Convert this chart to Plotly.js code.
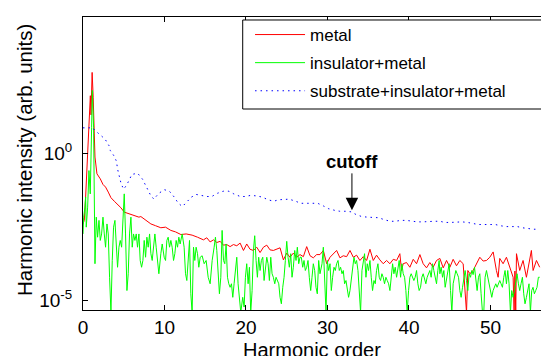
<!DOCTYPE html>
<html>
<head>
<meta charset="utf-8">
<script src="https://cdn.plot.ly/plotly-3.0.1.min.js"></script>
<style>html,body{margin:0;padding:0;background:#fff;}#chart{width:541px;height:356px;}</style>
</head>
<body>
<div id="chart"></div>
<script>
// Harmonic order (x) and log10 of harmonic intensity (y)
var metalX = [0,0.16,0.32,0.49,0.65,0.81,0.90,0.98,1.12,1.25,1.38,1.47,1.71,2.12,2.45,2.77,3.10,3.43,3.84,4.24,4.65,5.06,5.63,6.29,6.86,7.10,7.68,8.33,8.90,9.55,10.13,10.78,11.35,12.01,12.66,13.39,14.05,
  14.78,15.19,15.60,16.01,16.42,16.83,17.23,17.64,18.05,18.46,18.87,19.28,19.69,20.09,20.50,20.91,21.32,21.73,22.14,22.55,22.95,23.36,23.77,24.18,24.59,25.00,25.40,25.81,26.22,26.63,27.04,27.45,27.86,28.26,28.67,
  29.08,29.49,29.90,30.31,30.71,31.12,31.53,31.94,32.35,32.76,33.17,33.57,33.98,34.39,34.80,35.21,35.62,36.02,36.43,36.84,37.25,37.66,38.07,38.48,38.88,39.09,39.29,39.70,40.11,40.52,40.93,41.34,41.74,42.15,42.56,42.97,43.38,
  43.79,44.20,44.61,45.02,45.42,45.83,46.24,46.65,47.06,47.22,47.47,47.87,48.28,48.69,49.10,49.51,49.92,50.33,50.73,50.94,51.14,51.55,51.96,52.37,52.78,52.90,53.00,53.10,53.19,53.59,54.00,54.41,54.82,55.02,55.23,55.64,56.04];
var metalLog = [-2.40,-2.28,-1.49,-0.47,0.21,1.11,1.95,1.30,2.74,1.90,0.88,-0.13,-0.70,-0.87,-1.06,-1.15,-1.32,-1.51,-1.63,-1.74,-1.85,-2.00,-2.06,-2.12,-2.17,-2.15,-2.28,-2.40,-2.46,-2.53,-2.51,-2.62,-2.67,-2.76,-2.74,-2.78,-2.85,
  -2.94,-2.87,-3.01,-2.94,-3.03,-2.99,-3.12,-3.10,-3.17,-3.10,-3.14,-3.05,-3.30,-3.08,-3.26,-3.30,-3.19,-3.37,-3.19,-3.12,-3.28,-3.30,-3.26,-3.21,-3.62,-3.39,-3.53,-3.39,-3.53,-3.44,-3.51,-3.17,-3.48,-3.55,-3.44,
  -3.44,-3.30,-3.75,-3.53,-3.41,-3.30,-3.55,-3.48,-3.51,-3.30,-3.53,-3.46,-3.64,-3.51,-3.64,-3.26,-3.64,-3.46,-3.62,-3.75,-3.64,-3.75,-3.60,-3.64,-3.41,-3.98,-3.75,-3.71,-3.87,-3.60,-3.75,-3.44,-3.75,-3.89,-3.71,-3.87,-3.64,
  -3.57,-3.89,-3.64,-3.87,-3.60,-3.82,-3.64,-3.75,-5.40,-3.98,-4.09,-3.98,-3.75,-3.53,-3.66,-3.64,-3.53,-3.35,-3.98,-4.21,-3.57,-3.75,-3.53,-3.87,-4.21,-5.40,-4.00,-5.40,-3.41,-3.98,-3.64,-4.21,-3.64,-3.30,-3.98,-3.64,-3.87];

var insX = [0,0.08,0.24,0.32,0.40,0.57,0.73,0.89,1.06,1.14,1.30,1.38,1.47,1.63,1.79,1.96,2.12,2.28,2.45,2.61,2.77,2.94,3.10,3.26,3.43,3.59,3.75,3.92,4.08,4.24,4.41,4.57,4.74,4.90,5.06,5.22,5.39,5.55,5.71,5.88,6.04,6.20,6.37,6.53,6.69,6.86,7.02,7.19,7.35,7.51,7.68,7.84,8.00,8.17,8.33,8.49,8.66,8.82,8.98,9.15,9.31,9.55,9.72,9.96,10.13,10.29,10.45,10.62,10.78,10.94,11.11,11.27,11.43,11.60,11.76,11.92,12.17,12.41,12.58,12.74,12.90,13.07,13.23,13.39,13.56,13.72,13.88,14.05,14.21,
  14.38,14.62,14.87,15.11,15.36,15.60,15.85,16.09,16.25,16.42,16.58,16.74,16.91,17.07,17.24,17.40,17.56,17.73,17.89,18.05,18.22,18.38,18.54,18.71,18.87,19.03,19.20,19.36,19.60,19.77,19.93,20.09,20.26,20.42,20.58,20.75,20.91,21.07,21.24,21.40,21.56,21.73,21.89,22.06,22.22,22.38,22.55,22.71,22.87,23.04,23.20,23.36,23.53,23.69,23.85,24.02,24.18,24.34,24.51,24.67,24.83,25.00,25.16,25.32,25.49,25.65,25.81,25.98,26.14,26.30,26.47,26.63,26.79,26.96,27.12,27.28,27.45,27.61,27.77,27.94,28.10,28.26,28.43,28.59,28.75,28.92,
  29.08,29.33,29.49,29.65,29.82,29.98,30.14,30.31,30.47,30.63,30.80,30.96,31.12,31.29,31.45,31.61,31.78,31.94,32.10,32.27,32.43,32.59,32.76,32.92,33.08,33.25,33.41,33.57,33.74,33.90,34.06,34.23,34.39,34.55,34.72,34.88,35.04,35.21,35.37,35.53,35.70,35.86,36.02,36.19,36.35,36.51,36.68,36.84,37.00,37.17,37.33,37.50,37.66,37.82,37.99,38.15,38.31,38.48,38.64,38.80,38.97,39.13,39.29,39.46,39.62,39.78,39.95,40.11,40.27,40.44,40.60,40.76,40.93,41.09,41.25,41.42,41.58,41.74,41.91,42.07,42.23,42.40,42.56,42.72,42.89,43.05,43.21,43.38,43.54,43.70,
  43.79,43.95,44.12,44.28,44.44,44.61,44.77,44.93,45.10,45.26,45.42,45.59,45.75,45.91,46.08,46.24,46.40,46.57,46.73,46.89,47.06,47.22,47.38,47.55,47.71,47.87,48.04,48.20,48.36,48.53,48.69,48.85,49.02,49.18,49.34,49.51,49.67,49.83,50.00,50.16,50.32,50.49,50.65,50.81,50.98,51.14,51.30,51.47,51.63,51.79,51.96,52.12,52.28,52.45,52.61,52.77,52.94,53.10,53.26,53.43,53.59,53.75,53.92,54.08,54.24,54.41,54.57,54.73,54.90,55.06,55.22,55.39,55.55,55.71,55.88,56.04];
var insLog = [-2.74,-2.17,-1.83,-1.49,-2.51,-1.83,-0.59,-1.38,0.88,2.13,0.88,-0.81,-3.75,-2.17,-2.85,-2.28,-2.96,-2.74,-2.17,-2.74,-3.19,-2.40,-2.74,-4.21,-5.40,-3.64,-2.51,-2.28,-3.19,-3.87,-3.19,-2.96,-3.19,-2.28,-1.38,-2.74,-4.66,-4.09,-2.74,-2.17,-3.19,-2.74,-2.96,-2.74,-3.19,-2.74,-3.64,-3.87,-3.64,-2.96,-3.53,-2.85,-3.19,-2.74,-3.41,-3.64,-3.19,-2.74,-3.19,-3.64,-4.09,-3.41,-3.08,-3.53,-3.64,-2.96,-2.85,-3.19,-2.96,-3.19,-3.64,-3.41,-2.96,-3.19,-2.85,-3.08,-2.74,-3.19,-4.09,-4.32,-3.64,-2.96,-4.77,-5.40,-3.19,-3.64,-3.19,-3.41,-3.87,
  -3.53,-3.48,-3.75,-3.64,-4.21,-4.43,-3.64,-3.19,-2.85,-3.30,-3.98,-4.77,-4.21,-2.62,-3.64,-3.75,-3.08,-4.21,-4.43,-4.55,-4.43,-4.89,-4.43,-3.98,-3.53,-4.43,-4.89,-5.40,-4.89,-5.22,-4.21,-3.75,-4.43,-3.87,-5.40,-4.66,-3.30,-2.80,-3.64,-4.21,-3.53,-3.98,-3.64,-3.53,-4.32,-3.87,-3.53,-3.75,-4.32,-3.53,-4.09,-4.21,-4.43,-4.21,-4.32,-4.43,-4.89,-5.11,-4.55,-4.21,-3.64,-2.99,-3.53,-3.87,-3.41,-4.21,-3.87,-3.30,-3.64,-3.19,-3.75,-3.53,-3.53,-3.87,-3.64,-3.98,-3.87,-3.64,-4.21,-4.66,-4.21,-3.75,-3.98,-4.55,-4.77,-3.64,
  -4.09,-3.75,-3.19,-4.43,-5.40,-3.64,-3.98,-3.75,-4.66,-4.21,-3.87,-3.98,-3.75,-3.64,-3.98,-3.87,-4.09,-3.98,-4.43,-4.32,-4.66,-4.89,-4.66,-4.32,-3.98,-3.53,-3.75,-3.64,-3.98,-4.89,-5.40,-3.98,-3.75,-3.41,-4.21,-3.75,-3.98,-3.64,-4.21,-4.66,-4.32,-4.43,-3.98,-3.75,-4.21,-4.32,-4.09,-4.21,-4.43,-4.21,-4.32,-4.43,-4.66,-4.21,-3.75,-4.09,-3.87,-4.21,-3.98,-3.64,-4.21,-3.75,-4.09,-4.21,-4.66,-5.40,-4.66,-4.21,-4.09,-4.21,-4.32,-4.21,-3.98,-4.43,-4.66,-4.55,-4.21,-4.09,-4.32,-4.43,-4.21,-4.09,-3.98,-4.21,-3.75,-3.98,-4.21,-4.43,-3.98,-3.64,
  -4.09,-3.87,-4.21,-3.98,-4.55,-4.21,-3.98,-3.75,-4.66,-5.40,-4.43,-4.21,-3.98,-4.09,-4.21,-4.66,-4.89,-4.55,-4.21,-3.98,-4.32,-4.66,-4.09,-4.21,-3.98,-4.12,-3.87,-4.21,-4.66,-4.21,-4.09,-4.77,-5.40,-5.40,-4.21,-3.98,-4.21,-4.43,-4.66,-4.89,-4.66,-4.55,-4.43,-4.55,-4.43,-4.32,-4.43,-4.55,-4.21,-3.98,-4.43,-3.98,-4.43,-5.40,-4.66,-4.89,-4.66,-4.43,-4.09,-4.43,-4.66,-4.43,-4.21,-4.77,-5.11,-4.89,-4.66,-4.43,-5.40,-4.66,-4.55,-4.77,-4.66,-4.55,-4.21,-4.21];

var subX = [0,0.6,1.2,1.4,2.1,2.7,3.2,3.35,3.8,4.1,4.25,4.4,4.7,5.0,5.4,6.0,6.7,7.3,7.9,8.3,8.7,9.3,10.0,10.6,11.2,11.7,12.2,12.7,13.3,13.9,14.5,15.2,15.8,16.5,17.2,17.9,18.5,19.3,19.9,20.6,21.3,22.0,22.7,23.4,24.0,24.7,25.3,26.1,26.7,27.4,28.1,28.8,29.5,30.1,30.9,31.5,32.3,32.9,33.5,34.2,34.9,35.6,36.3,37.0,37.7,38.3,39.0,39.7,40.4,41.0,41.7,42.4,43.1,43.8,44.4,45.1,45.8,46.5,47.2,47.9,48.5,49.3,49.9,50.6,51.2,51.9,52.6,53.3,53.9,54.7,55.3,56.0];
var subLog = [0.86,0.86,0.86,0.79,0.63,0.48,0.25,0.09,-0.09,-0.27,-0.55,-0.75,-1.06,-1.22,-1.06,-0.72,-0.68,-0.88,-1.24,-1.43,-1.56,-1.36,-1.24,-1.29,-1.49,-1.70,-1.81,-1.67,-1.49,-1.40,-1.43,-1.47,-1.47,-1.36,-1.29,-1.29,-1.38,-1.47,-1.47,-1.43,-1.45,-1.49,-1.58,-1.63,-1.58,-1.56,-1.56,-1.63,-1.70,-1.70,-1.70,-1.70,-1.79,-1.88,-1.94,-1.97,-1.97,-1.99,-2.08,-2.15,-2.17,-2.17,-2.19,-2.26,-2.31,-2.31,-2.28,-2.28,-2.31,-2.33,-2.33,-2.31,-2.31,-2.31,-2.35,-2.35,-2.33,-2.33,-2.35,-2.40,-2.42,-2.42,-2.42,-2.42,-2.46,-2.49,-2.49,-2.49,-2.53,-2.56,-2.58,-2.58];

var seriesNames = ['metal', 'insulator+metal', 'substrate+insulator+metal'];
var yTickVals = [1e-5, 1];
var yTickText = ['10<sup>-5</sup>', '10<sup>0</sup>'];
var xTitle = 'Harmonic order';
var yTitle = 'Harmonic intensity (arb. units)';
var cutoffOrder = 33.0;
var cutoffLog = -1.94;

function pow10(a) { return a.map(function (v) { return Math.pow(10, v); }); }

var FONT = 'Liberation Sans, Arial, Helvetica, sans-serif';

var traces = [
  {x: metalX, y: pow10(metalLog), name: seriesNames[0], type: 'scatter', mode: 'lines',
   line: {color: '#ff0000', width: 1}, legendgroup: 'a'},
  {x: insX, y: pow10(insLog), name: seriesNames[1], type: 'scatter', mode: 'lines',
   line: {color: '#00ff00', width: 1}, legendgroup: 'b'},
  {x: subX, y: pow10(subLog), name: seriesNames[2], type: 'scatter', mode: 'lines',
   line: {color: '#0000ff', width: 1, dash: '1.5px,4px'}, legendgroup: 'c'}
];

var layout = {
  width: 541, height: 356,
  margin: {l: 83, r: 0, t: 17, b: 46, pad: 0},
  paper_bgcolor: '#ffffff', plot_bgcolor: '#ffffff',
  font: {family: FONT, color: '#000000', size: 19},
  showlegend: true,
  legend: {
    x: 0.3647, y: 1.0, xanchor: 'left', yanchor: 'top',
    bgcolor: 'rgba(255,255,255,0)', borderwidth: 0,
    font: {family: FONT, size: 17, color: '#000'},
    itemwidth: 50, tracegroupgap: 3, traceorder: 'grouped'
  },
  shapes: [
    {type: 'rect', xref: 'paper', yref: 'paper', x0: 0.3487, x1: 1.05, y0: 0.686, y1: 0.9898,
     line: {color: '#000', width: 1}, fillcolor: '#ffffff', layer: 'above'}
  ],
  xaxis: {
    range: [0, 56.2], tick0: 0, dtick: 10, ticks: 'inside', ticklen: 5, tickcolor: '#000',
    showline: true, linecolor: '#000', linewidth: 1, mirror: 'ticks',
    showgrid: false, zeroline: false,
    tickfont: {family: FONT, size: 19, color: '#000'}
  },
  yaxis: {
    type: 'log', range: [-5.32, 4.62], tickmode: 'array', tickvals: yTickVals, ticktext: yTickText,
    ticks: 'inside', ticklen: 5, tickcolor: '#000', ticklabelstandoff: 6,
    showline: true, linecolor: '#000', linewidth: 1, mirror: false,
    showgrid: false, zeroline: false,
    tickfont: {family: FONT, size: 19, color: '#000'}
  },
  annotations: [
    {x: cutoffOrder, y: cutoffLog, xref: 'x', yref: 'y', text: '<b>cutoff</b>',
     showarrow: true, arrowhead: 2, arrowsize: 2.5, arrowwidth: 1, arrowcolor: '#000',
     ax: 0, ay: -49, font: {family: FONT, size: 18.5, color: '#000'}},
    {xref: 'paper', yref: 'paper', x: 0.5, y: -0.1365, xanchor: 'center', yanchor: 'middle',
     text: xTitle, showarrow: false, font: {family: FONT, size: 20, color: '#000'}},
    {xref: 'paper', yref: 'paper', x: -0.1266, y: 0.512, xanchor: 'center', yanchor: 'middle',
     text: yTitle, textangle: -90, showarrow: false, font: {family: FONT, size: 20.5, color: '#000'}}
  ]
};

Plotly.newPlot('chart', traces, layout, {displayModeBar: false, staticPlot: true});
</script>
</body>
</html>
